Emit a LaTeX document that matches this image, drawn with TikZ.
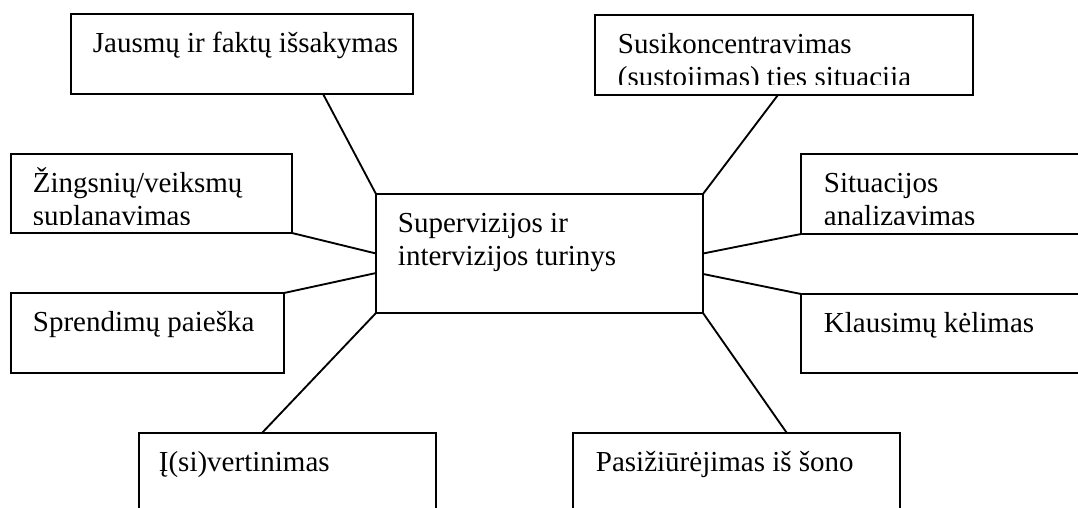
\documentclass[tikz,border=0pt]{standalone}
\usepackage{fontspec}
\setmainfont{Liberation Serif}
\usetikzlibrary{calc}

\def\px{0.75pt}

\begin{document}
\begin{tikzpicture}[
    x=0.75pt, y=-0.75pt,
    line width=1.4pt,
    box/.style={
        draw,
        anchor=north west,
        inner sep=0pt,
        outer sep=0pt
    },
    txt/.style={
        anchor=base west,
        inner sep=0pt,
        align=left,
        font=\fontsize{21.75}{24.75}\selectfont
    }
]
\useasboundingbox (0,0) rectangle (1078,507);

% boxes
\node[box, minimum width=342*\px, minimum height=80*\px] (jausmai) at (71,14) {};
\node[box, minimum width=378*\px, minimum height=80*\px] (koncentr) at (595,15) {};
\node[box, minimum width=281*\px, minimum height=79*\px] (zingsniai) at (11,154) {};
\node[box, minimum width=273*\px, minimum height=80*\px] (sprendimai) at (11,293) {};
\node[box, minimum width=297*\px, minimum height=100*\px] (ivert) at (139,433) {};
\node[box, minimum width=327*\px, minimum height=119*\px] (turinys) at (376,194) {};
\node[box, minimum width=300*\px, minimum height=80*\px] (situacija) at (801,154) {};
\node[box, minimum width=300*\px, minimum height=79*\px] (klausimai) at (801,294) {};
\node[box, minimum width=327*\px, minimum height=100*\px] (pasizvelg) at (573,433) {};

% texts (two-line texts sit on their last baseline)
\node[txt] (jausmai-t) at (92,52) {Jausmų ir faktų išsakymas};
\begin{scope}
  \clip (koncentr.north west) rectangle ($(koncentr.south east)+(0,-11)$);
  \node[txt] (koncentr-t) at (617,86) {Susikoncentravimas\\(sustojimas) ties situacija};
\end{scope}
\begin{scope}
  \clip (zingsniai.north west) rectangle ($(zingsniai.south east)+(0,-9)$);
  \node[txt] (zingsniai-t) at (32,225) {Žingsnių/veiksmų\\suplanavimas};
\end{scope}
\node[txt] (sprendimai-t) at (32,331) {Sprendimų paieška};
\node[txt] (ivert-t) at (158,471) {Į(si)vertinimas};
\node[txt] (turinys-t) at (397,265) {Supervizijos ir\\intervizijos turinys};
\begin{scope}
  \clip (situacija.north west) rectangle ($(situacija.south east)+(0,-10)$);
  \node[txt] (situacija-t) at (823,225) {Situacijos\\analizavimas};
\end{scope}
\node[txt] (klausimai-t) at (823,332) {Klausimų kėlimas};
\node[txt] (pasizvelg-t) at (595,471) {Pasižiūrėjimas iš šono};

% connectors
\draw ($(jausmai.south west)!.737!(jausmai.south east)$) -- (turinys.north west);
\draw ($(koncentr.south west)!.484!(koncentr.south east)$) -- (turinys.north east);
\draw (zingsniai.south east) -- (turinys.west);
\draw (sprendimai.north east) -- ($(turinys.north west)!.664!(turinys.south west)$);
\draw ($(ivert.north west)!.414!(ivert.north east)$) -- (turinys.south west);
\draw ($(pasizvelg.north west)!.654!(pasizvelg.north east)$) -- (turinys.south east);
\draw (situacija.south west) -- (turinys.east);
\draw (klausimai.north west) -- ($(turinys.north east)!.672!(turinys.south east)$);

\end{tikzpicture}
\end{document}
